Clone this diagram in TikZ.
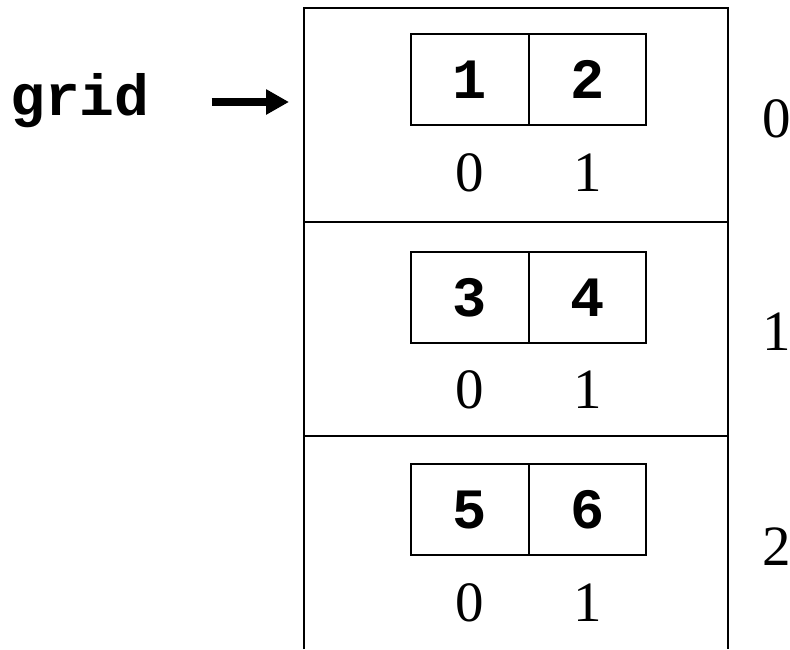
\documentclass[tikz,border=0pt]{standalone}
\usepackage{fontspec}
\setmainfont{Liberation Serif}
\setmonofont{Liberation Mono}
\usetikzlibrary{arrows.meta}
\begin{document}
\begin{tikzpicture}[x=1pt,y=-1pt,
  frame/.style={line width=2.6pt},
  cell/.style={draw,line width=2.4pt,minimum width=117.5pt,minimum height=91pt,inner sep=0pt,
    font=\fontsize{57}{60}\selectfont\ttfamily\bfseries},
  idx/.style={anchor=base,inner sep=0pt,font=\fontsize{57}{60}\selectfont},
  rowlab/.style={anchor=base,inner sep=0pt,font=\fontsize{57}{60}\selectfont},
  ptr/.style={line width=8pt,-{Triangle[length=23pt,width=24pt]}}]
\useasboundingbox (0,0) rectangle (790,649);
% outer array
\draw[frame] (304,649) -- (304,8) -- (728,8) -- (728,649);
\draw[frame] (304,222) -- (728,222);
\draw[frame] (304,436) -- (728,436);
% row 0
\node[cell] (c00) at (470,79.5) {1};
\node[cell] (c01) at (587.5,79.5) {2};
\node[idx] (i00) at (470,191) {0};
\node[idx] (i01) at (587.5,191) {1};
% row 1
\node[cell] (c10) at (470,297.5) {3};
\node[cell] (c11) at (587.5,297.5) {4};
\node[idx] (i10) at (470,408) {0};
\node[idx] (i11) at (587.5,408) {1};
% row 2
\node[cell] (c20) at (470,509.5) {5};
\node[cell] (c21) at (587.5,509.5) {6};
\node[idx] (i20) at (470,621.5) {0};
\node[idx] (i21) at (587.5,621.5) {1};
% row labels
\node[rowlab] (r0) at (776.5,137) {0};
\node[rowlab] (r1) at (776.5,350) {1};
\node[rowlab] (r2) at (776.5,565) {2};
% pointer
\node[anchor=base west,inner sep=0pt,font=\fontsize{58}{60}\selectfont\ttfamily\bfseries] (grid) at (10,115) {grid};
\coordinate (boxin) at (304,102);
\draw[ptr,shorten <=62pt,shorten >=15pt] (grid.east |- boxin) -- (boxin);
\end{tikzpicture}
\end{document}
